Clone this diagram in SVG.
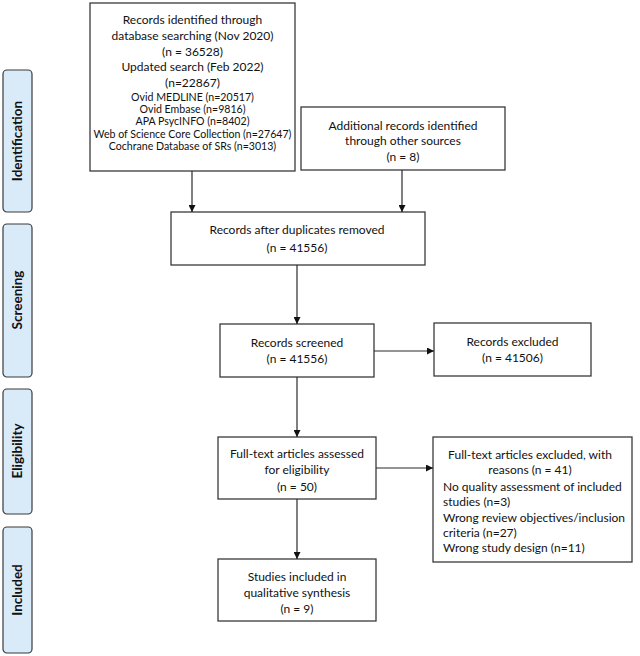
<svg xmlns="http://www.w3.org/2000/svg" width="640" height="656" viewBox="0 0 640 656">
<style>
.box{fill:#fff;stroke:#3a3a3a;stroke-width:1.3}
.side{fill:#d9eaf9;stroke:#3a3a3a;stroke-width:1.2}
text{font-family:Lato,"Open Sans","Liberation Sans",sans-serif;fill:#111}
.t{font-size:12px;text-anchor:middle}
.s{font-size:10.6px;text-anchor:middle}
.l{font-size:12px;text-anchor:start}
.lab{font-size:13.5px;font-weight:bold;text-anchor:middle}
.c{stroke:#2a2a2a;stroke-width:1.2;fill:none;marker-end:url(#ah)}
</style>
<defs>
<marker id="ah" viewBox="0 0 10 10" refX="10" refY="5" markerWidth="7" markerHeight="7" markerUnits="userSpaceOnUse" orient="auto">
<path d="M0,0 L10,5 L0,10 z" fill="#111"/>
</marker>
</defs>
<g id="side-identification">
<rect class="side" x="3" y="70" width="29" height="142" rx="4"/>
<text class="lab" transform="translate(22,141) rotate(-90)">Identification</text>
</g>
<g id="side-screening">
<rect class="side" x="3" y="224" width="29" height="153" rx="4"/>
<text class="lab" transform="translate(22,300) rotate(-90)">Screening</text>
</g>
<g id="side-eligibility">
<rect class="side" x="3" y="389" width="29" height="125" rx="4"/>
<text class="lab" transform="translate(22,451) rotate(-90)">Eligibility</text>
</g>
<g id="side-included">
<rect class="side" x="3" y="527" width="29" height="126" rx="4"/>
<text class="lab" transform="translate(22,590) rotate(-90)">Included</text>
</g>
<g id="n-database">
<rect class="box" x="90" y="3" width="205" height="168"/>
<text class="t" x="192.5" y="23.5">Records identified through</text>
<text class="t" x="192.5" y="39.5">database searching (Nov 2020)</text>
<text class="t" x="192.5" y="55.5">(n = 36528)</text>
<text class="t" x="192.5" y="71">Updated search (Feb 2022)</text>
<text class="t" x="192.5" y="87">(n=22867)</text>
<text class="s" x="192.5" y="101">Ovid MEDLINE (n=20517)</text>
<text class="s" x="192.5" y="113">Ovid Embase (n=9816)</text>
<text class="s" x="192.5" y="125">APA PsycINFO (n=8402)</text>
<text class="s" x="192.5" y="138">Web of Science Core Collection (n=27647)</text>
<text class="s" x="192.5" y="150">Cochrane Database of SRs (n=3013)</text>
</g>
<g id="n-additional">
<rect class="box" x="301" y="107" width="204" height="63"/>
<text class="t" x="403" y="129.5">Additional records identified</text>
<text class="t" x="403" y="145">through other sources</text>
<text class="t" x="403" y="160.5">(n = 8)</text>
</g>
<g id="n-duplicates">
<rect class="box" x="171" y="212" width="254" height="53"/>
<text class="t" x="297" y="233.5">Records after duplicates removed</text>
<text class="t" x="297" y="251.5">(n = 41556)</text>
</g>
<g id="n-screened">
<rect class="box" x="220" y="324" width="154" height="53"/>
<text class="t" x="297" y="346.5">Records screened</text>
<text class="t" x="297" y="362.5">(n = 41556)</text>
</g>
<g id="n-excluded">
<rect class="box" x="434" y="323" width="157" height="53"/>
<text class="t" x="512.5" y="345.5">Records excluded</text>
<text class="t" x="512.5" y="361.5">(n = 41506)</text>
</g>
<g id="n-fulltext">
<rect class="box" x="218" y="437" width="158" height="62"/>
<text class="t" x="297" y="457.5">Full-text articles assessed</text>
<text class="t" x="297" y="474">for eligibility</text>
<text class="t" x="297" y="490.5">(n = 50)</text>
</g>
<g id="n-fulltext-excluded">
<rect class="box" x="433" y="437" width="199" height="125"/>
<text class="t" x="530" y="458.5">Full-text articles excluded, with</text>
<text class="t" x="530" y="473.5">reasons (n = 41)</text>
<text class="l" x="443" y="490.5">No quality assessment of included</text>
<text class="l" x="443" y="505.5">studies (n=3)</text>
<text class="l" x="443" y="521.5">Wrong review objectives/inclusion</text>
<text class="l" x="443" y="536.5">criteria (n=27)</text>
<text class="l" x="443" y="551.5">Wrong study design (n=11)</text>
</g>
<g id="n-included">
<rect class="box" x="218" y="559" width="158" height="62"/>
<text class="t" x="297" y="580.5">Studies included in</text>
<text class="t" x="297" y="596.5">qualitative synthesis</text>
<text class="t" x="297" y="612.5">(n = 9)</text>
</g>
<g id="connectors">
<line class="c" x1="192" y1="171" x2="192" y2="212"/>
<line class="c" x1="402" y1="170" x2="402" y2="212"/>
<line class="c" x1="297" y1="265" x2="297" y2="324"/>
<line class="c" x1="374" y1="351" x2="434" y2="351"/>
<line class="c" x1="297" y1="377" x2="297" y2="437"/>
<line class="c" x1="376" y1="468" x2="433" y2="468"/>
<line class="c" x1="297" y1="499" x2="297" y2="559"/>
</g>
</svg>
